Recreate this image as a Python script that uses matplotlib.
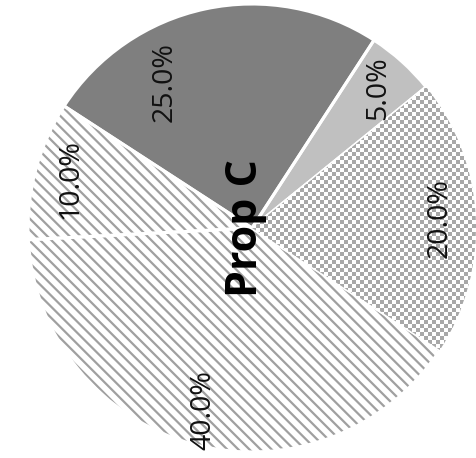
import matplotlib.pyplot as plt
import numpy as np
from matplotlib.colors import ListedColormap

plt.rcParams['font.family'] = ['Open Sans', 'DejaVu Sans']
plt.rcParams['hatch.linewidth'] = 1.6

# slices, counter-clockwise from the 25/5 boundary
sizes = [25, 10, 40, 20, 5]
colors = ['#7f7f7f', 'white', 'white', 'white', '#c0c0c0']
hatches = [None, '\\\\\\', '\\\\\\', None, None]
title = 'Prop C'

W, H = 477, 458
cx, cy, r = 252, 230, 224  # pixel centre (from bottom) and radius

fig = plt.figure(figsize=(W / 100, H / 100), dpi=100)
ax = fig.add_axes([0, 0, 1, 1])

wedges, texts, autotexts = ax.pie(
    sizes, colors=colors, startangle=57, counterclock=True,
    autopct='%1.1f%%', pctdistance=0.84,
    wedgeprops=dict(edgecolor='#a0a0a0', linewidth=0),
    textprops=dict(fontsize=20.5, color='#111111'))

for w, h in zip(wedges, hatches):
    if h:
        w.set_hatch(h)

# checkerboard fill for the 20% slice
yy, xx = np.indices((H, W))
checker = (xx // 4 + yy // 4) % 2
x0, x1 = -cx / r, (W - cx) / r
y0, y1 = -cy / r, (H - cy) / r
im = ax.imshow(checker, cmap=ListedColormap(['#a8a8a8', 'white']),
               extent=(x0, x1, y0, y1), interpolation='nearest', zorder=1.5)
im.set_clip_path(wedges[3])

# white separators
ax.pie(sizes, startangle=57, counterclock=True,
       wedgeprops=dict(facecolor='none', edgecolor='white', linewidth=2.2))

for t in autotexts:
    t.set_rotation(90)
    t.set_zorder(5)

# the 25% label sits off the bisector
ang = np.deg2rad(121)
autotexts[0].set_position((0.76 * np.cos(ang), 0.76 * np.sin(ang)))

ax.text(-0.03, 0, title, rotation=90, ha='center', va='center',
        fontsize=31, fontweight='bold', color='black', zorder=6)

ax.set_xlim(x0, x1)
ax.set_ylim(y0, y1)
ax.set_aspect('auto')
ax.axis('off')

fig.savefig('out.png', dpi=100)
